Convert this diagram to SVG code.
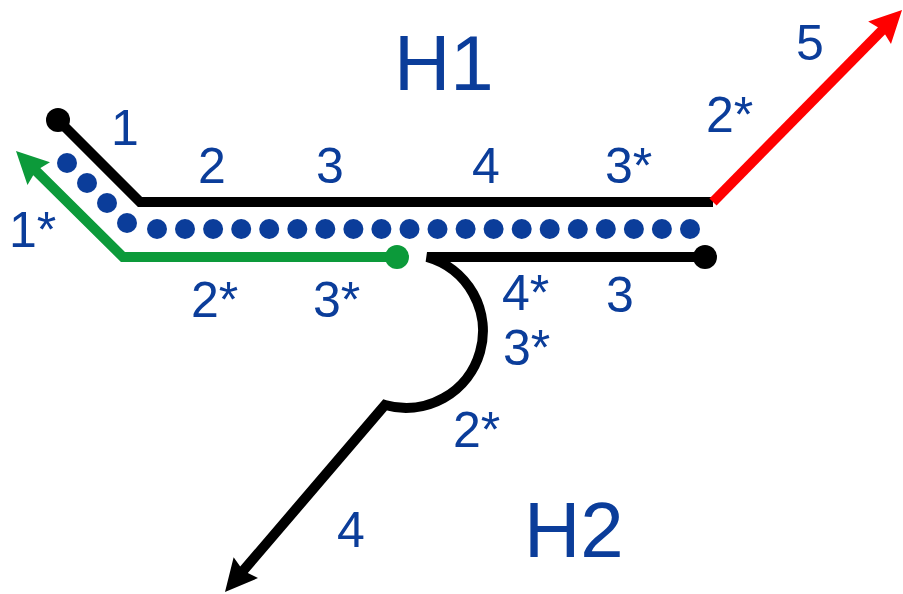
<svg xmlns="http://www.w3.org/2000/svg" width="903" height="594" viewBox="0 0 903 594">
  <style>
    .lbl { font-family: "Liberation Sans", Arial, sans-serif; font-size: 50px; fill: #0b3d9a; }
    .big { font-family: "Liberation Sans", Arial, sans-serif; font-size: 78px; fill: #0b3d9a; }
    .strand { fill: none; stroke-width: 10; stroke-linejoin: miter; stroke-linecap: butt; }
    .dot { fill: #0b3d9a; }
  </style>
  <defs>
    <marker id="headRed" markerUnits="userSpaceOnUse" markerWidth="34" markerHeight="34" refX="12" refY="16" orient="auto" overflow="visible">
      <path d="M0,0 L32,16 L0,32 L4,16 z" fill="#ff0000"/>
    </marker>
    <marker id="headGreen" markerUnits="userSpaceOnUse" markerWidth="34" markerHeight="34" refX="12" refY="16" orient="auto" overflow="visible">
      <path d="M0,0 L32,16 L0,32 L4,16 z" fill="#0c9a3a"/>
    </marker>
    <marker id="headBlack" markerUnits="userSpaceOnUse" markerWidth="34" markerHeight="34" refX="12" refY="16" orient="auto" overflow="visible">
      <path d="M0,0 L32,16 L0,32 L4,16 z" fill="#000000"/>
    </marker>
  </defs>

  <g id="connectors">
    <!-- upper strand -->
    <path class="strand" stroke="#000" d="M58,120 L140,202 L713,202"/>
    <!-- red extension -->
    <path class="strand" stroke="#ff0000" d="M713,202 L888,24.3" marker-end="url(#headRed)"/>
    <!-- green primer -->
    <path class="strand" stroke="#0c9a3a" stroke-width="11" d="M397,257 L123,257 L30.2,165.1" marker-end="url(#headGreen)"/>
    <!-- lower strand with loop and extension -->
    <path class="strand" stroke="#000" d="M705,257 L427,257 A76,76 0 1 1 385,405 L238,576.8" marker-end="url(#headBlack)"/>
  </g>

  <g id="ends">
    <circle cx="58" cy="120" r="12"/>
    <circle cx="705" cy="257" r="12"/>
    <circle cx="397" cy="257" r="12" fill="#0c9a3a"/>
  </g>

  <g id="dotted-strand">
    <circle class="dot" cx="67" cy="163" r="10"/>
    <circle class="dot" cx="87" cy="183" r="10"/>
    <circle class="dot" cx="107" cy="203" r="10"/>
    <circle class="dot" cx="127" cy="223" r="10"/>
    <circle class="dot" cx="157" cy="229" r="10"/>
    <circle class="dot" cx="185" cy="229" r="10"/>
    <circle class="dot" cx="213.1" cy="229" r="10"/>
    <circle class="dot" cx="241.2" cy="229" r="10"/>
    <circle class="dot" cx="269.2" cy="229" r="10"/>
    <circle class="dot" cx="297.3" cy="229" r="10"/>
    <circle class="dot" cx="325.3" cy="229" r="10"/>
    <circle class="dot" cx="353.4" cy="229" r="10"/>
    <circle class="dot" cx="381.4" cy="229" r="10"/>
    <circle class="dot" cx="409.5" cy="229" r="10"/>
    <circle class="dot" cx="437.5" cy="229" r="10"/>
    <circle class="dot" cx="465.6" cy="229" r="10"/>
    <circle class="dot" cx="493.6" cy="229" r="10"/>
    <circle class="dot" cx="521.7" cy="229" r="10"/>
    <circle class="dot" cx="549.7" cy="229" r="10"/>
    <circle class="dot" cx="577.8" cy="229" r="10"/>
    <circle class="dot" cx="605.8" cy="229" r="10"/>
    <circle class="dot" cx="633.9" cy="229" r="10"/>
    <circle class="dot" cx="661.9" cy="229" r="10"/>
    <circle class="dot" cx="690" cy="229" r="10"/>
  </g>

  <g id="labels">
    <text class="big" x="394" y="90">H1</text>
    <text class="big" x="524" y="557">H2</text>
    <text class="lbl" x="111" y="145">1</text>
    <text class="lbl" x="9" y="247">1*</text>
    <text class="lbl" x="198" y="183">2</text>
    <text class="lbl" x="316" y="183">3</text>
    <text class="lbl" x="472" y="183">4</text>
    <text class="lbl" x="605" y="183">3*</text>
    <text class="lbl" x="706" y="132">2*</text>
    <text class="lbl" x="796" y="60">5</text>
    <text class="lbl" x="191" y="317">2*</text>
    <text class="lbl" x="313" y="317">3*</text>
    <text class="lbl" x="502" y="310">4*</text>
    <text class="lbl" x="606" y="312">3</text>
    <text class="lbl" x="503" y="365">3*</text>
    <text class="lbl" x="453" y="447">2*</text>
    <text class="lbl" x="337" y="547">4</text>
  </g>
</svg>
